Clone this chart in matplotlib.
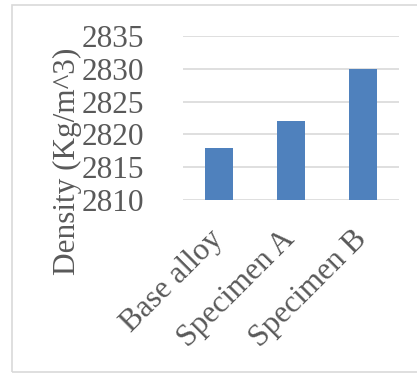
import matplotlib
matplotlib.use("Agg")
import matplotlib.pyplot as plt
from matplotlib.patches import Rectangle
from matplotlib.transforms import ScaledTranslation

categories = ["Base alloy", "Specimen A", "Specimen B"]
density = [2818, 2822, 2830]
yticks = [2810, 2815, 2820, 2825, 2830, 2835]

W, H = 417, 374
fig = plt.figure(figsize=(W / 100, H / 100), dpi=100)
plt.rcParams["font.family"] = ["Liberation Serif", "DejaVu Serif"]

# outer chart frame
fig.patches.append(Rectangle((12 / W, 1 - 372 / H), 420 / W, 367 / H,
                             transform=fig.transFigure, fill=False,
                             edgecolor="#d9d9d9", linewidth=1.2))

ax = fig.add_axes([183 / W, 1 - 200 / H, 216 / W, 164 / H])
x = range(len(categories))
ax.bar(x, density, width=0.4, color="#4f81bd", zorder=3)
ax.set_xlim(-0.5, 2.5)
ax.set_ylim(2810, 2835)
ax.set_yticks(yticks)
ax.yaxis.grid(True, color="#d9d9d9", linewidth=1.2, zorder=0)
for s in ax.spines.values():
    s.set_visible(False)
ax.tick_params(axis="both", length=0, labelsize=22.5, labelcolor="#595959")
ax.tick_params(axis="y", pad=28)
ax.set_xticks(list(x))
ax.set_xticklabels(categories, rotation=45, ha="right", rotation_mode="anchor")
ax.tick_params(axis="x", pad=12)
shift = ScaledTranslation(-11 / 100, -8 / 100, fig.dpi_scale_trans)
for lab in ax.get_xticklabels():
    lab.set_transform(lab.get_transform() + shift)

ax.set_ylabel("Density (Kg/m^3)", fontsize=22.5, color="#595959",
              va="center", ha="center")
ax.yaxis.set_label_coords(67 / W, 1 - 161 / H, transform=fig.transFigure)

fig.savefig("out.png", dpi=100)
